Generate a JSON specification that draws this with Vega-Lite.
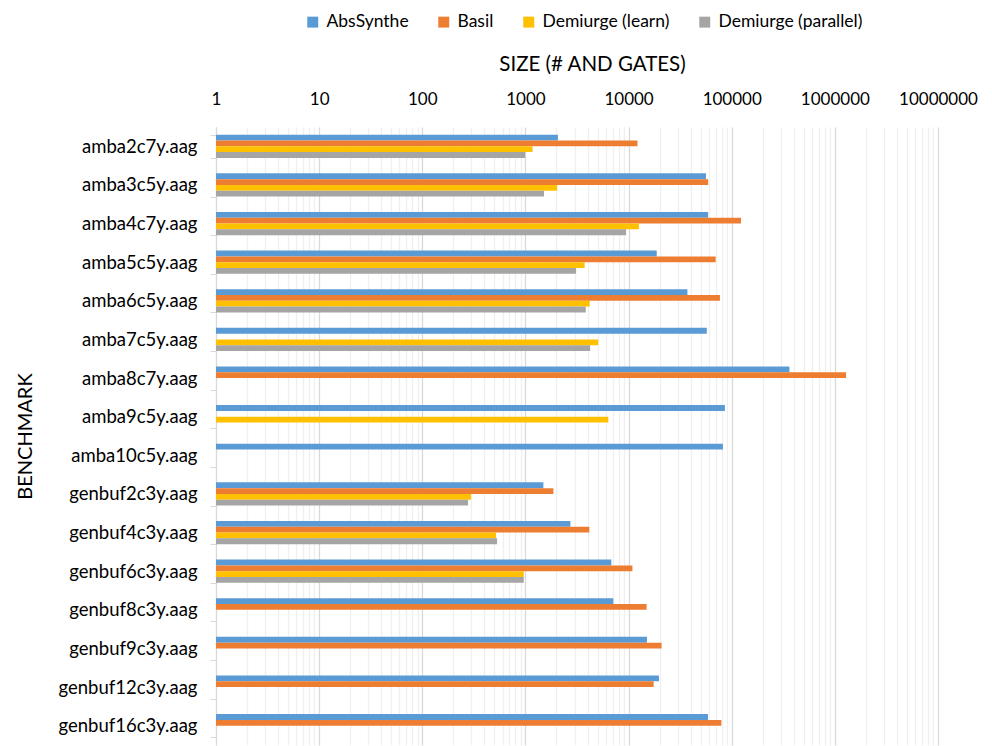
{
  "$schema": "https://vega.github.io/schema/vega-lite/v6.json",
  "width": 722,
  "height": 618,
  "autosize": {"type": "none"},
  "padding": {"left": 216, "top": 127, "right": 54, "bottom": 1},
  "background": "white",
  "config": {
    "view": {"stroke": null},
    "font": "Lato",
    "axis": {"labelColor": "#000000", "titleColor": "#000000", "titleFontWeight": "normal"}
  },
  "data": {
    "values": [
      {"benchmark": "amba2c7y.aag", "tool": "AbsSynthe", "size": 2065},
      {"benchmark": "amba2c7y.aag", "tool": "Basil", "size": 12200},
      {"benchmark": "amba2c7y.aag", "tool": "Demiurge (learn)", "size": 1173},
      {"benchmark": "amba2c7y.aag", "tool": "Demiurge (parallel)", "size": 993},
      {"benchmark": "amba3c5y.aag", "tool": "AbsSynthe", "size": 56300},
      {"benchmark": "amba3c5y.aag", "tool": "Basil", "size": 59100},
      {"benchmark": "amba3c5y.aag", "tool": "Demiurge (learn)", "size": 2032},
      {"benchmark": "amba3c5y.aag", "tool": "Demiurge (parallel)", "size": 1514},
      {"benchmark": "amba4c7y.aag", "tool": "AbsSynthe", "size": 59100},
      {"benchmark": "amba4c7y.aag", "tool": "Basil", "size": 123000},
      {"benchmark": "amba4c7y.aag", "tool": "Demiurge (learn)", "size": 12600},
      {"benchmark": "amba4c7y.aag", "tool": "Demiurge (parallel)", "size": 9460},
      {"benchmark": "amba5c5y.aag", "tool": "AbsSynthe", "size": 18750},
      {"benchmark": "amba5c5y.aag", "tool": "Basil", "size": 69900},
      {"benchmark": "amba5c5y.aag", "tool": "Demiurge (learn)", "size": 3750},
      {"benchmark": "amba5c5y.aag", "tool": "Demiurge (parallel)", "size": 3100},
      {"benchmark": "amba6c5y.aag", "tool": "AbsSynthe", "size": 37200},
      {"benchmark": "amba6c5y.aag", "tool": "Basil", "size": 76900},
      {"benchmark": "amba6c5y.aag", "tool": "Demiurge (learn)", "size": 4200},
      {"benchmark": "amba6c5y.aag", "tool": "Demiurge (parallel)", "size": 3845},
      {"benchmark": "amba7c5y.aag", "tool": "AbsSynthe", "size": 57300},
      {"benchmark": "amba7c5y.aag", "tool": "Demiurge (learn)", "size": 5070},
      {"benchmark": "amba7c5y.aag", "tool": "Demiurge (parallel)", "size": 4240},
      {"benchmark": "amba8c7y.aag", "tool": "AbsSynthe", "size": 363000},
      {"benchmark": "amba8c7y.aag", "tool": "Basil", "size": 1285000},
      {"benchmark": "amba9c5y.aag", "tool": "AbsSynthe", "size": 85900},
      {"benchmark": "amba9c5y.aag", "tool": "Demiurge (learn)", "size": 6360},
      {"benchmark": "amba10c5y.aag", "tool": "AbsSynthe", "size": 82200},
      {"benchmark": "genbuf2c3y.aag", "tool": "AbsSynthe", "size": 1493},
      {"benchmark": "genbuf2c3y.aag", "tool": "Basil", "size": 1866},
      {"benchmark": "genbuf2c3y.aag", "tool": "Demiurge (learn)", "size": 297},
      {"benchmark": "genbuf2c3y.aag", "tool": "Demiurge (parallel)", "size": 278},
      {"benchmark": "genbuf4c3y.aag", "tool": "AbsSynthe", "size": 2728},
      {"benchmark": "genbuf4c3y.aag", "tool": "Basil", "size": 4165},
      {"benchmark": "genbuf4c3y.aag", "tool": "Demiurge (learn)", "size": 519},
      {"benchmark": "genbuf4c3y.aag", "tool": "Demiurge (parallel)", "size": 531},
      {"benchmark": "genbuf6c3y.aag", "tool": "AbsSynthe", "size": 6800},
      {"benchmark": "genbuf6c3y.aag", "tool": "Basil", "size": 10900},
      {"benchmark": "genbuf6c3y.aag", "tool": "Demiurge (learn)", "size": 963},
      {"benchmark": "genbuf6c3y.aag", "tool": "Demiurge (parallel)", "size": 963},
      {"benchmark": "genbuf8c3y.aag", "tool": "AbsSynthe", "size": 7110},
      {"benchmark": "genbuf8c3y.aag", "tool": "Basil", "size": 14960},
      {"benchmark": "genbuf9c3y.aag", "tool": "AbsSynthe", "size": 15070},
      {"benchmark": "genbuf9c3y.aag", "tool": "Basil", "size": 20900},
      {"benchmark": "genbuf12c3y.aag", "tool": "AbsSynthe", "size": 19700},
      {"benchmark": "genbuf12c3y.aag", "tool": "Basil", "size": 17500},
      {"benchmark": "genbuf16c3y.aag", "tool": "AbsSynthe", "size": 58900},
      {"benchmark": "genbuf16c3y.aag", "tool": "Basil", "size": 79400}
    ]
  },
  "mark": {"type": "bar"},
  "encoding": {
    "y": {
      "field": "benchmark",
      "type": "nominal",
      "sort": ["amba2c7y.aag", "amba3c5y.aag", "amba4c7y.aag", "amba5c5y.aag", "amba6c5y.aag", "amba7c5y.aag", "amba8c7y.aag", "amba9c5y.aag", "amba10c5y.aag", "genbuf2c3y.aag", "genbuf4c3y.aag", "genbuf6c3y.aag", "genbuf8c3y.aag", "genbuf9c3y.aag", "genbuf12c3y.aag", "genbuf16c3y.aag"],
      "scale": {"paddingInner": 0.4, "paddingOuter": 0.2},
      "axis": {
        "title": "BENCHMARK",
        "titleFontSize": 20,
        "titleX": -191,
        "titleY": 309,
        "titleAngle": -90,
        "titleAlign": "center",
        "titleBaseline": "middle",
        "tickBand": "extent",
        "domainColor": "#d9d9d9",
        "tickColor": "#d9d9d9",
        "tickSize": 6,
        "labelPadding": 13,
        "labelFontSize": 18.5,
        "grid": false
      }
    },
    "yOffset": {
      "field": "tool",
      "sort": ["AbsSynthe", "Basil", "Demiurge (learn)", "Demiurge (parallel)"]
    },
    "x": {
      "field": "size",
      "type": "quantitative",
      "scale": {"type": "log", "domain": [1, 10000000], "nice": false},
      "axis": {
        "orient": "top",
        "title": "SIZE (# AND GATES)",
        "titleFontSize": 20.5,
        "titleX": 376,
        "titleY": -63,
        "titleAlign": "center",
        "titleBaseline": "middle",
        "domain": false,
        "ticks": false,
        "tickSize": 0,
        "labelPadding": 19,
        "labelFontSize": 17,
        "labelFlush": false,
        "labelOverlap": false,
        "labelBound": false,
        "values": [1,2,3,4,5,6,7,8,9,10,20,30,40,50,60,70,80,90,100,200,300,400,500,600,700,800,900,1000,2000,3000,4000,5000,6000,7000,8000,9000,10000,20000,30000,40000,50000,60000,70000,80000,90000,100000,200000,300000,400000,500000,600000,700000,800000,900000,1000000,2000000,3000000,4000000,5000000,6000000,7000000,8000000,9000000,10000000],
        "labelExpr": "datum.value == pow(10, round(log(datum.value)/LN10)) ? format(datum.value, 'd') : ''",
        "grid": true,
        "gridColor": {"condition": {"test": "datum.value == pow(10, round(log(datum.value)/LN10))", "value": "#d9d9d9"}, "value": "#efefef"},
        "gridWidth": 1.3
      }
    },
    "x2": {"datum": 1},
    "color": {
      "field": "tool",
      "type": "nominal",
      "scale": {
        "domain": ["AbsSynthe", "Basil", "Demiurge (learn)", "Demiurge (parallel)"],
        "range": ["#5B9BD5", "#ED7D31", "#FFC000", "#A5A5A5"]
      },
      "legend": {
        "title": null,
        "orient": "none",
        "legendX": 88,
        "legendY": -114,
        "direction": "horizontal",
        "columns": 4,
        "padding": 0,
        "symbolType": "square",
        "symbolSize": 120,
        "symbolStrokeWidth": 0,
        "labelFontSize": 17.5,
        "labelColor": "#000000",
        "labelOffset": 5,
        "columnPadding": 26
      }
    }
  }
}
